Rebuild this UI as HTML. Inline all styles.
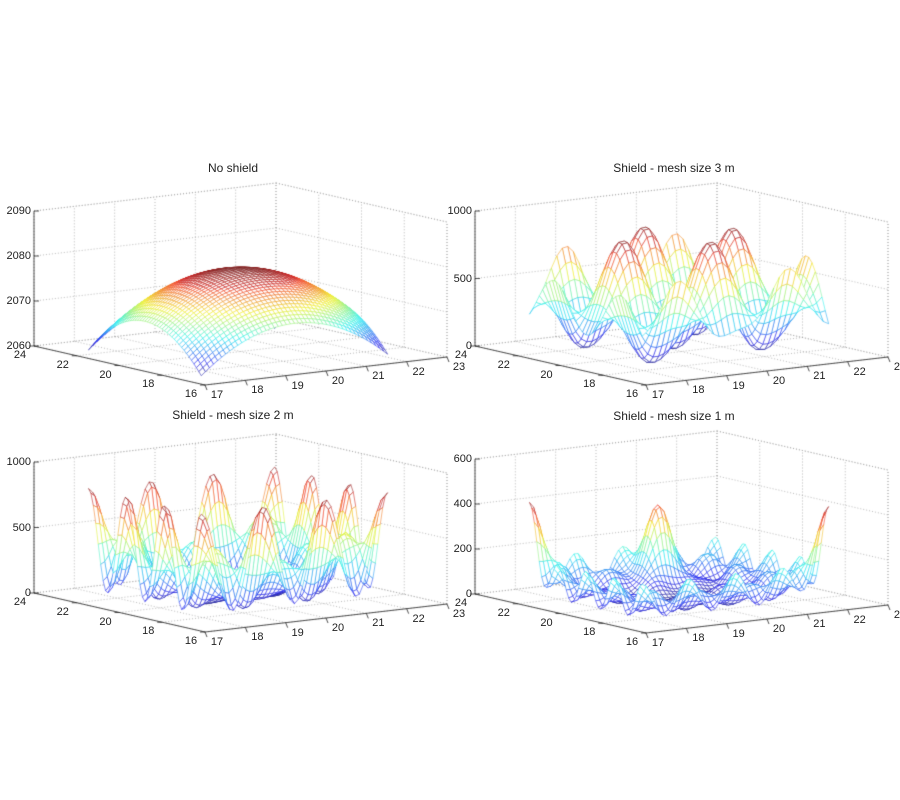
<!DOCTYPE html>
<html><head><meta charset="utf-8"><style>
body{margin:0;background:#fff;}
#wrap{position:relative;width:900px;height:800px;overflow:hidden;font-family:"Liberation Sans",sans-serif;}
canvas{position:absolute;left:0;top:0;}
.t{position:absolute;font-size:11px;color:#222;white-space:nowrap;line-height:12px;}
.ti{position:absolute;font-size:12px;color:#222;white-space:nowrap;transform:translateX(-50%);}
</style></head><body><div id="wrap"><canvas id="c" width="900" height="800"></canvas></div>
<script>
const cv=document.getElementById('c'),ctx=cv.getContext('2d'),wrap=document.getElementById('wrap');
function jet(t){t=Math.max(0,Math.min(1,t));
 function c(x){return Math.max(0,Math.min(1,1.5-Math.abs(x)));}
 let r=c(4*t-3),g=c(4*t-2),b=c(4*t-1);
 // soften
 const k=0.82;r=r*k+0.12;g=g*k+0.12;b=b*k+0.12;
 if(t>0.85){r*=0.85;g*=0.7;b*=0.7;}
 return 'rgb('+Math.round(r*255)+','+Math.round(g*255)+','+Math.round(b*255)+')';}
function addText(txt,x,y,cls,align){const d=document.createElement('div');d.className=cls;d.textContent=txt;
 d.style.left=x+'px';d.style.top=y+'px';if(align==='r'){d.style.transform='translateX(-100%)';}
 else if(align==='c'){d.style.transform='translateX(-50%)';}wrap.appendChild(d);}
function panel(Lx,Ly,H,title,zt,zmin,zmax,f,N){
 const Fx=Lx+171,Fy=Ly+39,Rx=Lx+413,Ry=Ly+11;
 const P=(u,v,w)=>[Fx+u*(Rx-Fx)+v*(Lx-Fx),Fy+u*(Ry-Fy)+v*(Ly-Fy)-w*H];
 ctx.save();ctx.strokeStyle='#999';ctx.lineWidth=0.7;ctx.setLineDash([1,2]);
 function ln(a,b){ctx.beginPath();ctx.moveTo(a[0],a[1]);ctx.lineTo(b[0],b[1]);ctx.stroke();}
 const us=[0,1,2,3,4,5,6].map(i=>i/6), vs=[0,1,2,3,4].map(i=>i/4);
 const ws=zt.map(z=>(z-zmin)/(zmax-zmin));
 us.forEach(u=>{ln(P(u,0,0),P(u,1,0));ln(P(u,1,0),P(u,1,1));});
 vs.forEach(v=>{ln(P(0,v,0),P(1,v,0));ln(P(1,v,0),P(1,v,1));});
 ws.forEach(w=>{ln(P(0,1,w),P(1,1,w));ln(P(1,1,w),P(1,0,w));});
 ln(P(0,1,1),P(1,1,1));ln(P(1,1,1),P(1,0,1));ln(P(1,0,0),P(1,0,1));
 ctx.restore();
 ctx.strokeStyle='#222';ctx.lineWidth=0.8;ctx.setLineDash([]);
 function sl(a,b){ctx.beginPath();ctx.moveTo(a[0],a[1]);ctx.lineTo(b[0],b[1]);ctx.stroke();}
 sl(P(0,1,0),P(0,1,1));sl(P(0,1,0),P(0,0,0));sl(P(0,0,0),P(1,0,0));
 ws.forEach((w,i)=>{const p=P(0,1,w);sl(p,[p[0]+5,p[1]]);addText(String(zt[i]),p[0]-3,p[1]-6,'t','r');});
 for(let i=0;i<=6;i++){const p=P(i/6,0,0);sl(p,[p[0]+2,p[1]+5]);addText(String(17+i),p[0]+12,p[1]+4,'t','c');}
 for(let i=0;i<=4;i++){const p=P(0,i/4,0);sl(p,[p[0]-5,p[1]]);addText(String(16+2*i),p[0]-14,p[1]+3,'t','c');}
 addText(title,Lx+199,Ly-185,'ti','');
 const u0=0.02,u1=0.79,v0=0.05,v1=0.71;
 const Z=[];let mn=1e9,mx=-1e9;
 for(let i=0;i<=N;i++){Z[i]=[];for(let j=0;j<=N;j++){const a=-1+2*i/N,b=-1+2*j/N;const z=f(a,b);Z[i][j]=z;mn=Math.min(mn,z);mx=Math.max(mx,z);}}
 const quads=[];
 for(let i=0;i<N;i++)for(let j=0;j<N;j++)quads.push([i,j]);
 quads.sort((A,B)=>(B[0]+B[1])-(A[0]+A[1]));
 ctx.lineWidth=0.55;
 const pt=(i,j)=>P(u0+(u1-u0)*i/N,v0+(v1-v0)*j/N,(Z[i][j]-zmin)/(zmax-zmin));
 quads.forEach(([i,j])=>{
  const a=pt(i,j),b=pt(i+1,j),c=pt(i+1,j+1),d=pt(i,j+1);
  ctx.beginPath();ctx.moveTo(a[0],a[1]);ctx.lineTo(b[0],b[1]);ctx.lineTo(c[0],c[1]);ctx.lineTo(d[0],d[1]);ctx.closePath();
  ctx.fillStyle='#fff';ctx.fill();
  const zv=(Z[i][j]+Z[i+1][j]+Z[i+1][j+1]+Z[i][j+1])/4;
  ctx.strokeStyle=jet((zv-mn)/(mx-mn));ctx.stroke();
 });
}
const PI=Math.PI;
panel(34,346,135,'No shield',[2060,2070,2080,2090],2060,2090,(a,b)=>2061.5+18.5*(1-(a*a+b*b)/2),46);
panel(475,346,135,'Shield - mesh size 3 m',[0,500,1000],0,1000,(a,b)=>{
 return Math.max(20,450-420*Math.cos(1.7*PI*a+0.2)*Math.cos(1.7*PI*b+0.1)+120*Math.cos(3.4*PI*a)*0.5);},34);
panel(34,593,131,'Shield - mesh size 2 m',[0,500,1000],0,1000,(a,b)=>{
 const s=Math.max(Math.abs(a),Math.abs(b)),r=Math.sqrt(a*a+b*b)/1.2;
 const ring=Math.pow(Math.min(1,0.6*s+0.5*r),2.5);
 return 30+850*ring*(0.55+0.45*Math.cos(3*PI*a)*Math.cos(3*PI*b))+40*(1+Math.cos(2*PI*a))*(1-s);},46);
panel(475,594,135,'Shield - mesh size 1 m',[0,200,400,600],0,600,(a,b)=>{
 const s=Math.max(Math.abs(a),Math.abs(b));
 let z=15+190*s*s*(0.6+0.4*Math.cos(4*PI*a)*Math.cos(4*PI*b))+30*(1+Math.cos(5*PI*a))*(1+Math.cos(5*PI*b))/4;
 const corner=Math.exp(-((a+1)**2+(b-1)**2)*25)+Math.exp(-((a-1)**2+(b+1)**2)*25);
 z+=250*corner;
 z+=300*Math.exp(-((a-0.2)**2+(b-0.7)**2)*30);
 return z;},46);
</script></body></html>
